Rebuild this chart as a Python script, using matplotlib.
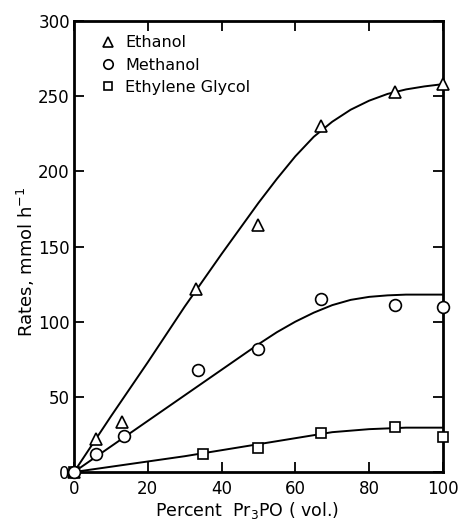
import matplotlib
matplotlib.use("Agg")
import matplotlib.pyplot as plt

plt.rcParams["font.family"] = ["DejaVu Sans"]

# measured points
eth_x = [0, 6, 13, 33, 50, 67, 87, 100]
eth_y = [0, 22, 33, 122, 164, 230, 253, 258]
meth_x = [0, 6, 13.5, 33.5, 50, 67, 87, 100]
meth_y = [0, 12, 24, 68, 82, 115, 111, 110]
eg_x = [0, 35, 50, 67, 87, 100]
eg_y = [0, 12, 16, 26, 30, 23.5]

# hand drawn curves
eth_cx = [0, 10, 20, 30, 40, 50, 55, 60, 65, 70, 75, 80, 85, 90, 95, 100]
eth_cy = [0, 37, 73, 110, 145, 179, 195, 210, 223, 233, 241, 247, 251.5, 254.5, 256.5, 258]
meth_cx = [0, 10, 20, 30, 40, 50, 55, 60, 65, 70, 75, 80, 85, 90, 95, 100]
meth_cy = [0, 17, 34, 51, 68, 85, 93, 100, 106, 111, 114.5, 116.5, 117.5, 118, 118, 118]
eg_cx = [0, 10, 20, 30, 40, 50, 60, 70, 80, 90, 100]
eg_cy = [0, 3.5, 7, 10.5, 14.5, 18.5, 22.5, 26.5, 28.5, 29.5, 29.5]

fig = plt.figure(figsize=(4.58, 5.2), dpi=100)
ax = fig.add_axes([0.1616, 0.0923, 0.8054, 0.8673])

ax.plot(eth_cx, eth_cy, color="black", lw=1.4, clip_on=False)
ax.plot(meth_cx, meth_cy, color="black", lw=1.4, clip_on=False)
ax.plot(eg_cx, eg_cy, color="black", lw=1.4, clip_on=False)

mk = dict(linestyle="none", mfc="white", mec="black", mew=1.2, clip_on=False, zorder=3)
ax.plot(eth_x, eth_y, marker="^", ms=8.5, label="Ethanol", **mk)
ax.plot(eg_x, eg_y, marker="s", ms=7, label="Ethylene Glycol", **mk)
ax.plot(meth_x, meth_y, marker="o", ms=8.5, label="Methanol", **mk)

ax.set_xlim(0, 100)
ax.set_ylim(0, 300)
ax.set_xticks(range(0, 101, 20))
ax.set_yticks(range(0, 301, 50))
ax.tick_params(direction="in", top=True, right=True, length=7, width=1.3,
               labelsize=12)
ax.tick_params(axis="x", pad=6)
ax.tick_params(axis="y", pad=3)
for s in ax.spines.values():
    s.set_linewidth(2)

ax.set_xlabel("Percent  Pr$_3$PO ( vol.)", fontsize=12.5)
ax.set_ylabel("Rates, mmol h$^{-1}$", fontsize=13)
ax.xaxis.set_label_coords(0.47, -0.062)
ax.yaxis.set_label_coords(-0.1, 0.466)

h, l = ax.get_legend_handles_labels()
order = [0, 2, 1]
leg = ax.legend([h[i] for i in order], [l[i] for i in order], loc="upper left",
                frameon=False, fontsize=11.5, handletextpad=0.35,
                borderaxespad=0.5, labelspacing=0.45, markerscale=0.8,
                handlelength=1.5, bbox_to_anchor=(0.02, 1.0))

fig.savefig("out.png", dpi=100)
